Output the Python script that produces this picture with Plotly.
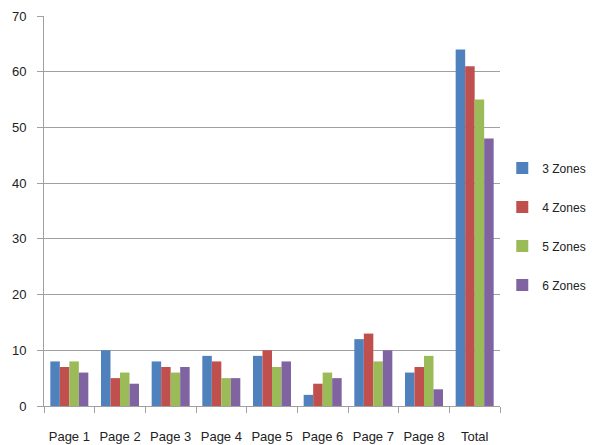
import plotly.graph_objects as go

categories = ["Page 1", "Page 2", "Page 3", "Page 4", "Page 5", "Page 6", "Page 7", "Page 8", "Total"]
zones3 = [8, 10, 8, 9, 9, 2, 12, 6, 64]
zones4 = [7, 5, 7, 8, 10, 4, 13, 7, 61]
zones5 = [8, 6, 6, 5, 7, 6, 8, 9, 55]
zones6 = [6, 4, 7, 5, 8, 5, 10, 3, 48]
series_names = ["3 Zones", "4 Zones", "5 Zones", "6 Zones"]
colors = ["#4F81BD", "#C0504D", "#9BBB59", "#8064A2"]

font_family = "Liberation Sans, Arial, sans-serif"

fig = go.Figure()
for i, (name, vals) in enumerate(zip(series_names, [zones3, zones4, zones5, zones6])):
    fig.add_trace(go.Bar(x=categories, y=vals, name=name, marker_color=colors[i],
                         marker_line_width=0, legendgroup=name))

fig.update_layout(
    width=595, height=445,
    margin=dict(l=44, r=95, t=16, b=39, autoexpand=False),
    barmode="group", bargap=0.25, bargroupgap=0,
    plot_bgcolor="white", paper_bgcolor="white",
    font=dict(family=font_family, size=12, color="#222222"),
    legend=dict(x=1.005, y=0.46, xanchor="left", yanchor="middle",
                tracegroupgap=20, font=dict(size=12),
                itemwidth=30),
    showlegend=True,
)
fig.update_xaxes(type="category", showline=True, linecolor="#a0a0a0", linewidth=1,
                 ticks="outside", tickson="boundaries", ticklen=6, tickcolor="#a0a0a0",
                 showgrid=False, tickfont=dict(size=13), tickangle=0, automargin=False,
                 ticklabelstandoff=18)
fig.update_yaxes(range=[0, 70], dtick=10, showline=True, linecolor="#a0a0a0", linewidth=1,
                 ticks="outside", ticklen=6, tickcolor="#a0a0a0",
                 showgrid=True, gridcolor="#a0a0a0", gridwidth=1, zeroline=False,
                 tickfont=dict(size=13), automargin=False, ticklabelstandoff=8)

fig.write_html("out.html", config={"displayModeBar": False},
               post_script="document.body.style.margin='0px';")
